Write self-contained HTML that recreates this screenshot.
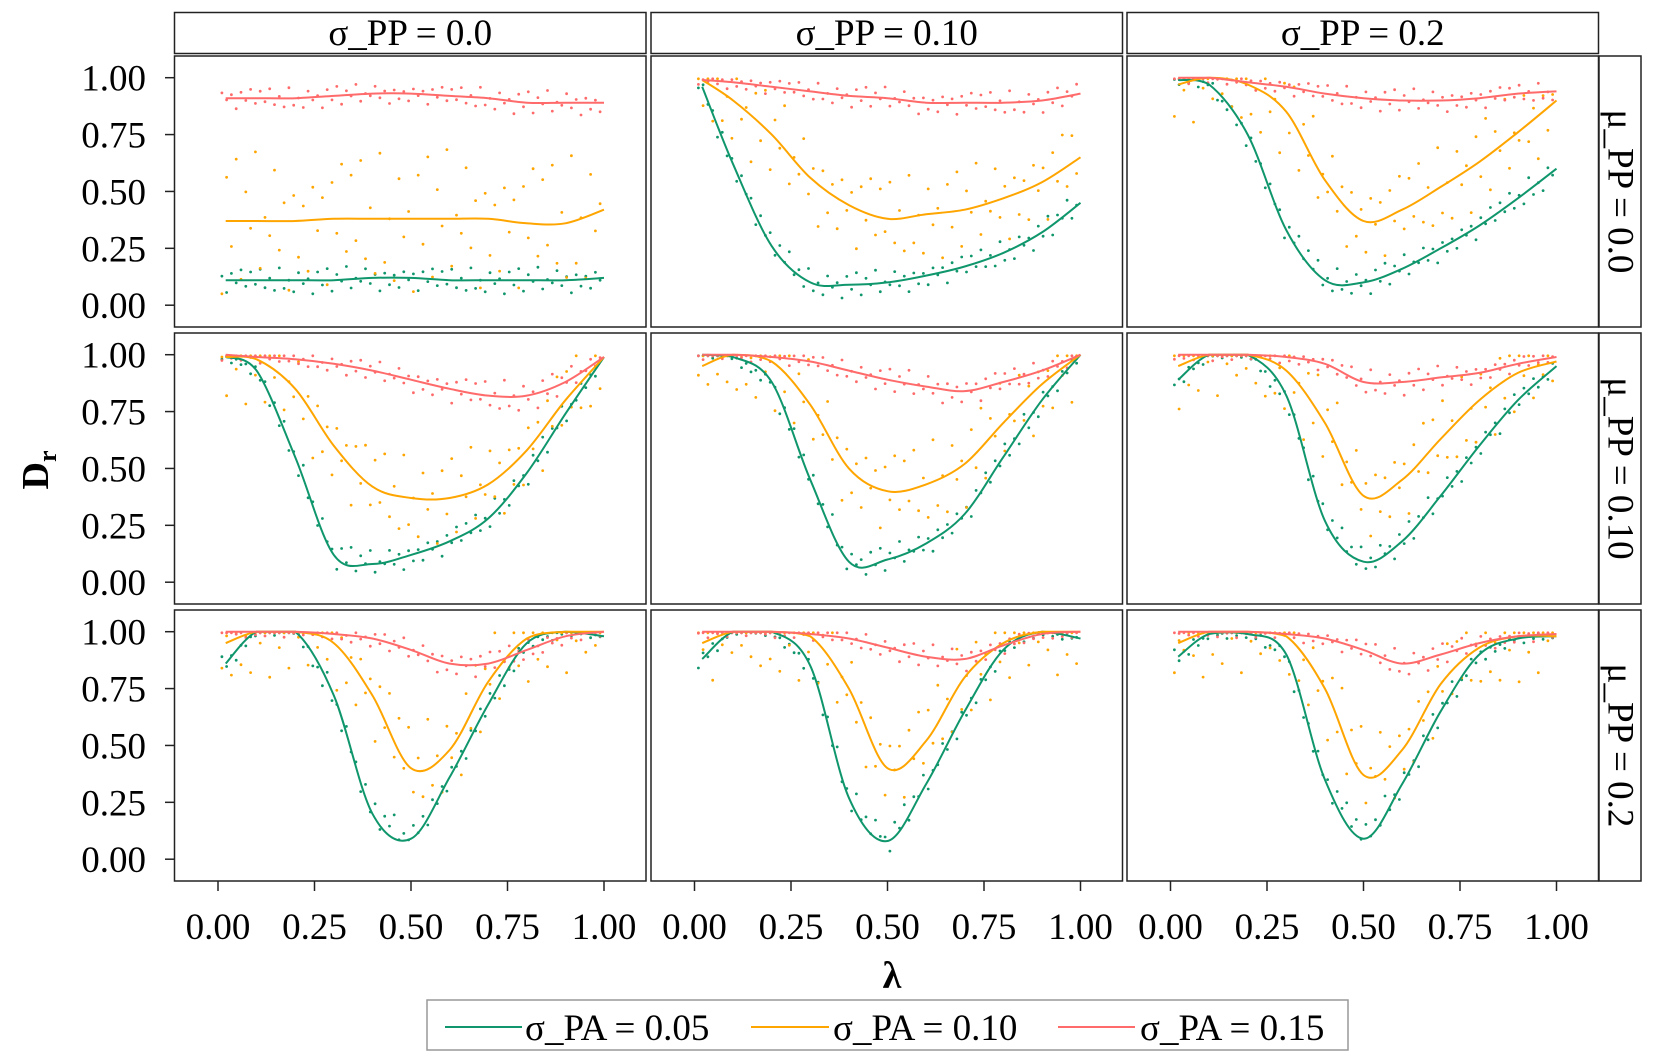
<!DOCTYPE html>
<html><head><meta charset="utf-8">
<style>
html,body{margin:0;padding:0;background:#fff;}
svg{display:block;font-family:"Liberation Serif",serif;}
</style></head>
<body>
<svg id="chart" width="1661" height="1064" viewBox="0 0 1661 1064" xmlns="http://www.w3.org/2000/svg"></svg>
<script>
// ---- data ----
const colLabels = ["σ_PP = 0.0","σ_PP = 0.10","σ_PP = 0.2"];
const rowLabels = ["μ_PP = 0.0","μ_PP = 0.10","μ_PP = 0.2"];
const seriesNames = ["σ_PA = 0.05","σ_PA = 0.10","σ_PA = 0.15"];
const xGrid = [0.02,0.1,0.2,0.3,0.4,0.5,0.6,0.7,0.8,0.9,1.0];
const xTicks = [0,0.25,0.5,0.75,1.0];
const xTickLabels = ["0.00","0.25","0.50","0.75","1.00"];
const yTicks = [0,0.25,0.5,0.75,1.0];
const yTickLabels = ["0.00","0.25","0.50","0.75","1.00"];
// smoothed curves: [row][col] per series
const greenCurves = [
 [[0.11,0.11,0.11,0.11,0.12,0.12,0.11,0.11,0.11,0.11,0.12],
  [0.96,0.62,0.26,0.10,0.09,0.10,0.13,0.17,0.23,0.32,0.45],
  [0.99,0.97,0.75,0.33,0.11,0.10,0.16,0.25,0.35,0.47,0.60]],
 [[0.99,0.93,0.55,0.12,0.08,0.12,0.18,0.28,0.48,0.74,0.99],
  [1.0,0.99,0.88,0.45,0.09,0.10,0.17,0.30,0.55,0.80,1.0],
  [0.89,1.0,1.0,0.82,0.27,0.09,0.18,0.38,0.60,0.80,0.95]],
 [[0.86,1.0,1.0,0.72,0.20,0.09,0.36,0.68,0.95,1.0,0.98],
  [0.88,1.0,1.0,0.85,0.27,0.08,0.33,0.65,0.92,1.0,0.97],
  [0.89,0.99,0.99,0.90,0.35,0.09,0.33,0.65,0.90,0.97,0.98]]];
const orangeCurves = [
 [[0.37,0.37,0.37,0.38,0.38,0.38,0.38,0.38,0.36,0.36,0.42],
  [0.99,0.90,0.75,0.56,0.44,0.38,0.40,0.42,0.47,0.54,0.65],
  [0.97,1.0,0.97,0.85,0.55,0.37,0.42,0.52,0.63,0.76,0.90]],
 [[0.99,0.98,0.85,0.60,0.42,0.37,0.37,0.43,0.58,0.80,0.99],
  [0.95,1.0,0.97,0.78,0.50,0.40,0.43,0.52,0.70,0.87,1.0],
  [0.95,1.0,1.0,0.93,0.70,0.38,0.45,0.63,0.80,0.92,0.97]],
 [[0.95,1.0,1.0,0.95,0.72,0.40,0.48,0.78,0.97,1.0,1.0],
  [0.95,1.0,1.0,0.98,0.75,0.40,0.52,0.80,0.95,1.0,1.0],
  [0.95,1.0,1.0,0.98,0.75,0.37,0.48,0.77,0.93,0.98,0.98]]];
const redCurves = [
 [[0.91,0.91,0.91,0.92,0.93,0.93,0.92,0.91,0.89,0.89,0.89],
  [0.99,0.98,0.96,0.94,0.92,0.91,0.89,0.89,0.89,0.90,0.93],
  [1.0,1.0,0.98,0.96,0.93,0.91,0.90,0.90,0.91,0.93,0.94]],
 [[1.0,0.99,0.98,0.96,0.93,0.89,0.85,0.82,0.82,0.88,0.99],
  [1.0,1.0,0.99,0.97,0.93,0.89,0.86,0.84,0.88,0.93,1.0],
  [1.0,1.0,1.0,0.99,0.96,0.88,0.88,0.90,0.92,0.96,0.99]],
 [[1.0,1.0,1.0,0.99,0.97,0.92,0.86,0.86,0.92,0.98,1.0],
  [1.0,1.0,1.0,0.99,0.97,0.93,0.89,0.88,0.94,0.99,1.0],
  [1.0,1.0,1.0,0.99,0.97,0.92,0.86,0.90,0.95,0.98,0.99]]];
// scatter residuals (typical deviation pattern around each curve)
const residuals = [0.3,-0.8,0.6,-0.2,0.9,-0.5,0.1,-0.9,0.4,-0.3,0.7,-0.6,0.2,-1.0,0.5,-0.1,0.8,-0.4,0.0,-0.7,
                   0.6,-0.2,0.95,-0.55,0.25,-0.85,0.45,-0.35,0.75,-0.65,0.15,-0.95,0.55,-0.15,0.85,-0.45,0.05,-0.75,0.35,-0.25];
const spreads = [0.06,0.2,0.09];
const colors = ["#10966c","#ffa500","#ff6b6b"];

// ---- layout ----
const svg = document.getElementById('chart');
const NS = "http://www.w3.org/2000/svg";
const colX = [174.5,651,1127], panelW = 471.5;
const rowY = [56,333,610], panelH = 271;
function mk(tag, attrs, parent){const e=document.createElementNS(NS,tag);for(const k in attrs)e.setAttribute(k,attrs[k]);(parent||svg).appendChild(e);return e;}
function xs(c,v){return colX[c]+43.5+v*386;}
function ys(r,v){return rowY[r]+21.7+(1-v)*227.5;}
function interp(arr,x){
  if(x<=xGrid[0])return arr[0];
  for(let i=1;i<xGrid.length;i++){if(x<=xGrid[i]){const t=(x-xGrid[i-1])/(xGrid[i]-xGrid[i-1]);return arr[i-1]+(arr[i]-arr[i-1])*t;}}
  return arr[arr.length-1];
}
function smoothPath(pts,topY,botY){
  let d="M"+pts[0][0].toFixed(1)+","+pts[0][1].toFixed(1);
  const cl=v=>Math.min(botY,Math.max(topY,v));
  for(let i=0;i<pts.length-1;i++){
    const p0=pts[Math.max(0,i-1)],p1=pts[i],p2=pts[i+1],p3=pts[Math.min(pts.length-1,i+2)];
    const c1=[p1[0]+(p2[0]-p0[0])/6,cl(p1[1]+(p2[1]-p0[1])/6)];
    const c2=[p2[0]-(p3[0]-p1[0])/6,cl(p2[1]-(p3[1]-p1[1])/6)];
    d+=" C"+c1[0].toFixed(1)+","+c1[1].toFixed(1)+" "+c2[0].toFixed(1)+","+c2[1].toFixed(1)+" "+p2[0].toFixed(1)+","+p2[1].toFixed(1);
  }
  return d;
}
const allCurves=[greenCurves,orangeCurves,redCurves];

for(let c=0;c<3;c++){
  const s=mk('rect',{x:colX[c],y:12.5,width:panelW,height:41,fill:'#fff',stroke:'#222','stroke-width':1.5});
  
  
  const t=mk('text',{x:colX[c]+panelW/2,y:45,'font-size':37,'text-anchor':'middle',fill:'#000'});
  t.textContent=colLabels[c];
  
  
}
for(let r=0;r<3;r++){
  const s=mk('rect',{x:1599,y:rowY[r],width:42,height:panelH,fill:'#fff',stroke:'#222','stroke-width':1.5});
  
  
  const cx=1620,cy=rowY[r]+panelH/2;
  const t=mk('text',{x:cx,y:cy,'font-size':37,'text-anchor':'middle','dominant-baseline':'central',transform:`rotate(90 ${cx} ${cy})`,fill:'#000'});
  t.textContent=rowLabels[r];
  
  
}

for(let r=0;r<3;r++){
  for(let k=0;k<yTicks.length;k++){
    const y=ys(r,yTicks[k]);
    const tk=mk('line',{x1:165,x2:174.5,y1:y,y2:y,stroke:'#222','stroke-width':1.5});
    
    
    const t=mk('text',{x:146,y:y+13,'font-size':37,'text-anchor':'end',fill:'#000'});
    t.textContent=yTickLabels[k];
    
    
  }
  for(let c=0;c<3;c++){
    const g=mk('g',{});
    
    
    mk('rect',{x:colX[c],y:rowY[r],width:panelW,height:panelH,fill:'#fff',stroke:'#222','stroke-width':1.5},g);
    for(let s=0;s<3;s++){
      const curve=allCurves[s][r][c];
      for(let i=0;i<80;i++){
        const xv=0.01+i*0.98/79;
        let yv=interp(curve,xv)+residuals[(i*7+s*13+r*5+c*3)%residuals.length]*spreads[s]*(s==1&&r==0&&c==0?1.6:1)*(s!=1?Math.min(1,0.3+(1-interp(curve,xv))*3):1);
        yv=Math.max(0.02,Math.min(0.995,yv));
        const p=mk('circle',{cx:xs(c,xv).toFixed(1),cy:ys(r,yv).toFixed(1),r:1.4,fill:colors[s]},g);
        
        
      }
    }
    for(let s=0;s<3;s++){
      const curve=allCurves[s][r][c];
      const pts=xGrid.map((x,i)=>[xs(c,x),ys(r,curve[i])]);
      const l=mk('path',{d:smoothPath(pts,ys(r,1),ys(r,0)),fill:'none',stroke:colors[s],'stroke-width':2},g);
      
      
    }
  }
}
for(let c=0;c<3;c++){
  for(let k=0;k<xTicks.length;k++){
    const x=xs(c,xTicks[k]);
    const tk=mk('line',{x1:x,x2:x,y1:881,y2:891,stroke:'#222','stroke-width':1.5});
    
    
    const t=mk('text',{x:x,y:939,'font-size':37,'text-anchor':'middle',fill:'#000'});
    t.textContent=xTickLabels[k];
    
    
  }
}
</script>
<svg style="position:absolute;left:0;top:0" width="1661" height="1064">
  <text x="892" y="988" font-size="38" font-weight="bold" text-anchor="middle" font-family="Liberation Serif,serif">λ</text>
  <text transform="rotate(-90 48 470)" x="48" y="470" font-size="38" font-weight="bold" text-anchor="middle" font-family="Liberation Serif,serif">D<tspan font-size="26" dy="8">r</tspan></text>
  <g>
    <rect x="427" y="1000" width="921" height="50" fill="#fff" stroke="#999" stroke-width="1.5"/>
    <g>
      <line x1="445" x2="522" y1="1027" y2="1027" stroke="#10966c" stroke-width="2"/>
      <text x="525" y="1040" font-size="37" font-family="Liberation Serif,serif">σ_PA = 0.05</text>
    </g>
    <g>
      <line x1="751" x2="829" y1="1027" y2="1027" stroke="#ffa500" stroke-width="2"/>
      <text x="833" y="1040" font-size="37" font-family="Liberation Serif,serif">σ_PA = 0.10</text>
    </g>
    <g>
      <line x1="1058" x2="1135" y1="1027" y2="1027" stroke="#ff6b6b" stroke-width="2"/>
      <text x="1140" y="1040" font-size="37" font-family="Liberation Serif,serif">σ_PA = 0.15</text>
    </g>
  </g>
</svg>
</body></html>
